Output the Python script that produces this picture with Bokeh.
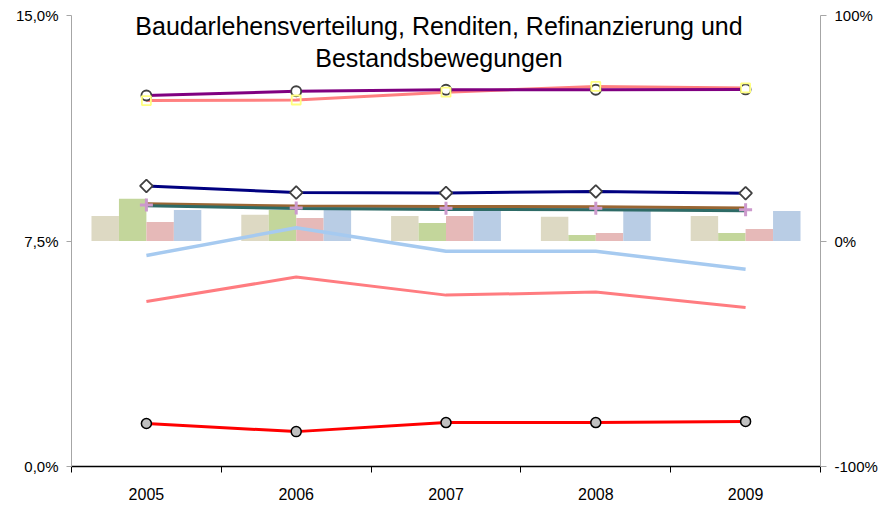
from bokeh.plotting import figure
from bokeh.models import Range1d, LinearAxis, FixedTicker, Label
from bokeh.embed import file_html
from bokeh.resources import INLINE

years = ["2005", "2006", "2007", "2008", "2009"]
xpos = [0, 1, 2, 3, 4]

# bars, secondary axis (%)
bar_beige = [11.1, 11.6, 11.1, 10.7, 11.1]
bar_green = [18.7, 13.8, 8.0, 2.7, 3.6]
bar_pink = [8.4, 10.2, 11.1, 3.6, 5.3]
bar_blue = [13.8, 13.8, 13.6, 13.6, 13.3]

# lines, primary axis (%)
purple = [12.34, 12.48, 12.53, 12.53, 12.54]
salmon_sq = [12.17, 12.19, 12.45, 12.64, 12.59]
navy = [9.33, 9.11, 9.10, 9.15, 9.09]
brown = [8.74, 8.66, 8.65, 8.64, 8.60]
teal = [8.67, 8.58, 8.55, 8.54, 8.51]
lilac = [8.70, 8.60, 8.59, 8.59, 8.54]
lightblue = [7.02, 7.94, 7.16, 7.16, 6.56]
salmon2 = [5.49, 6.30, 5.70, 5.80, 5.29]
red = [1.43, 1.16, 1.46, 1.46, 1.50]

left_ticks = [0, 7.5, 15]
left_labels = ["0,0%", "7,5%", "15,0%"]
right_ticks = [-100, 0, 100]
right_labels = ["-100%", "0%", "100%"]
title_lines = ["Baudarlehensverteilung, Renditen, Refinanzierung und", "Bestandsbewegungen"]

FONT = "Liberation Sans"

p = figure(width=888, height=509, output_backend="svg", toolbar_location=None,
           x_range=Range1d(-0.5, 4.5), y_range=Range1d(0, 15))
p.min_border_left = 71
p.min_border_right = 68
p.min_border_top = 15
p.min_border_bottom = 43
p.outline_line_color = None
p.xgrid.visible = False
p.ygrid.visible = False
p.background_fill_color = "white"
p.border_fill_color = "white"

p.extra_y_ranges = {"sec": Range1d(-100, 100)}

# x axis
xa = p.xaxis[0]
xa.ticker = FixedTicker(ticks=xpos, minor_ticks=[-0.5, 0.5, 1.5, 2.5, 3.5, 4.5])
xa.major_label_overrides = {i: y for i, y in zip(xpos, years)}
xa.major_tick_out = 0
xa.major_tick_in = 0
xa.minor_tick_out = 6
xa.minor_tick_in = 0
xa.minor_tick_line_color = "black"
xa.axis_line_color = "black"
xa.axis_line_width = 1.5
xa.major_label_standoff = 15
xa.major_label_text_font = FONT
xa.major_label_text_font_size = "16px"
xa.major_label_text_color = "black"

# left axis
ya = p.yaxis[0]
ya.ticker = FixedTicker(ticks=left_ticks, minor_ticks=[])
ya.major_label_overrides = {t: l for t, l in zip(left_ticks, left_labels)}
ya.axis_line_color = "#A6A6A6"
ya.major_tick_line_color = "#A6A6A6"
ya.major_tick_out = 5
ya.major_tick_in = 0
ya.major_label_standoff = 8
ya.major_label_text_font = FONT
ya.major_label_text_font_size = "15px"
ya.major_label_text_color = "black"

# right axis
ra = LinearAxis(y_range_name="sec")
ra.ticker = FixedTicker(ticks=right_ticks, minor_ticks=[])
ra.major_label_overrides = {t: l for t, l in zip(right_ticks, right_labels)}
ra.axis_line_color = "#A6A6A6"
ra.major_tick_line_color = "#A6A6A6"
ra.major_tick_out = 6
ra.major_tick_in = 0
ra.major_label_standoff = 8
ra.major_label_text_font = FONT
ra.major_label_text_font_size = "15px"
ra.major_label_text_color = "black"
p.add_layout(ra, "right")

# bars
w = 0.1833
bar_sets = [(bar_beige, "#DDD9C3"), (bar_green, "#C3D69B"), (bar_pink, "#E6B9B8"), (bar_blue, "#B9CDE5")]
for k, (vals, col) in enumerate(bar_sets):
    off = (k - 1.5) * w
    p.vbar(x=[x + off for x in xpos], top=vals, bottom=0, width=w,
           fill_color=col, line_color=None, y_range_name="sec")

# lines
p.line(xpos, salmon2, line_color="#FF7C80", line_width=3)
p.line(xpos, lightblue, line_color="#A6CAF0", line_width=3.5)
p.line(xpos, lilac, line_color="#CC99CC", line_width=2.5)
p.line(xpos, brown, line_color="#996633", line_width=3)
p.line(xpos, teal, line_color="#2E6B66", line_width=3)
p.scatter(xpos, lilac, marker="cross", size=13, line_color="#CC99CC", line_width=3)
p.line(xpos, navy, line_color="#000080", line_width=3)
p.scatter(xpos, navy, marker="square", angle=0.785398, size=9, fill_color="white", line_color="#404040", line_width=1.8)
p.line(xpos, salmon_sq, line_color="#FF8080", line_width=3)
p.line(xpos, purple, line_color="#800080", line_width=3)
p.scatter(xpos, purple, marker="circle", size=10, fill_color="white", line_color="#404040", line_width=1.8)
p.scatter(xpos, salmon_sq, marker="square", size=9, fill_color=None, line_color="#FFFF80", line_width=1.8)
p.line(xpos, red, line_color="#FF0000", line_width=3)
p.scatter(xpos, red, marker="circle", size=10, fill_color="#C0C0C0", line_color="black", line_width=1.5)

# title
for i, t in enumerate(title_lines):
    p.add_layout(Label(x=367.5, y=441 - i * 32, x_units="screen", y_units="screen",
                       text=t, text_align="center", text_baseline="middle",
                       text_font=FONT, text_font_size="25px", text_color="black"))

open("out.html", "w").write(file_html(p, INLINE))
